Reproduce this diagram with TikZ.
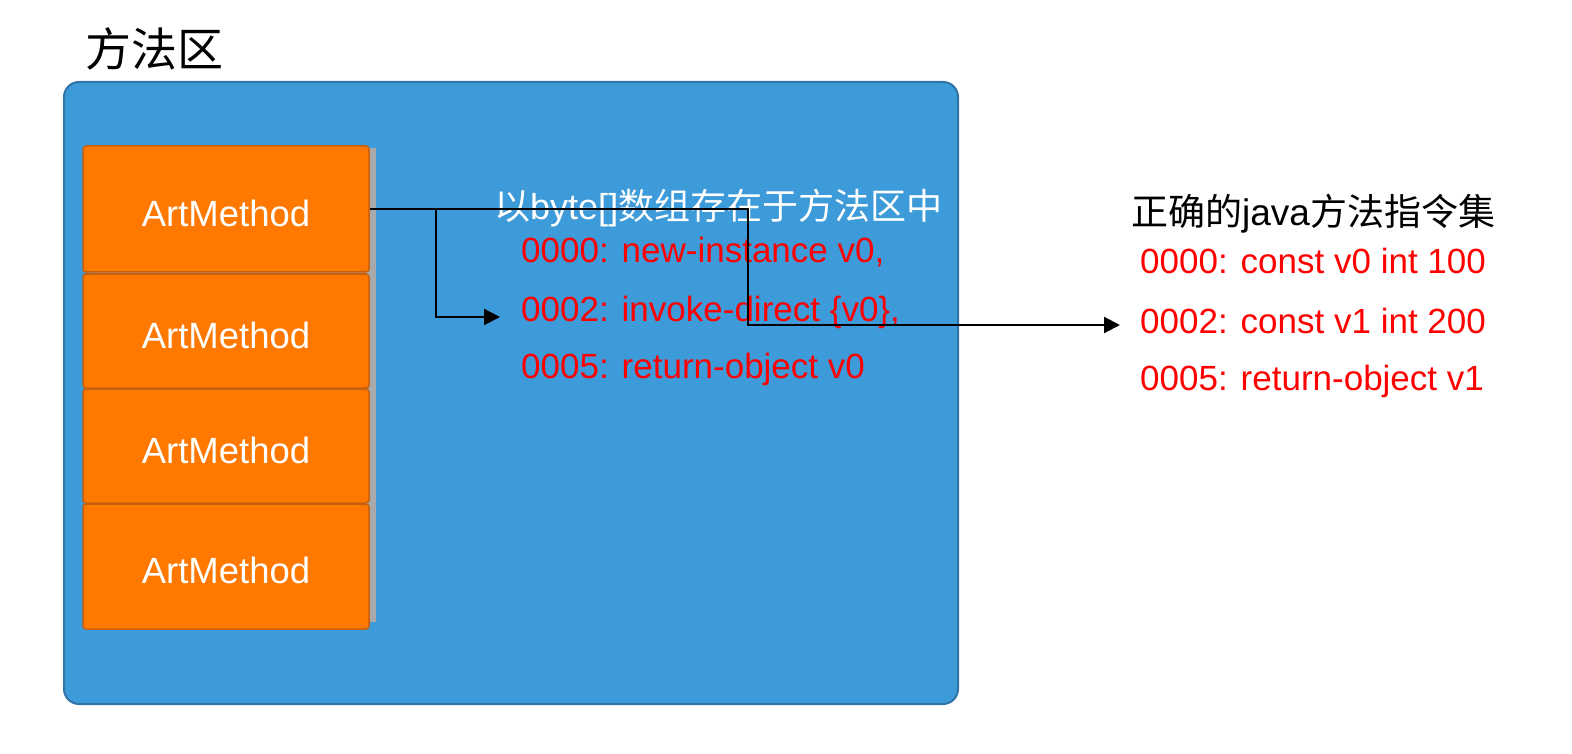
\documentclass[tikz,border=0pt]{standalone}
\usepackage{fontspec}
\setmainfont{Liberation Sans}
\newfontfamily\cjk{Noto Sans CJK SC}
\usetikzlibrary{arrows.meta}
\definecolor{areablue}{HTML}{3E9BD9}
\definecolor{areaedge}{HTML}{2F75A8}
\definecolor{methodfill}{HTML}{FF7800}
\definecolor{methodedge}{HTML}{C4600E}
\definecolor{shadowgray}{HTML}{A9A9A9}
\tikzset{
  area/.style   = { fill=areablue, draw=areaedge, line width=2pt, rounded corners=15pt },
  method/.style = { fill=methodfill, draw=methodedge, line width=1.5pt, rounded corners=3pt,
                    text=white, minimum width=286pt, inner sep=0pt, text height=35pt,
                    font=\fontsize{36.5}{40}\selectfont },
  code/.style   = { text=red, anchor=west, inner sep=0pt, font=\fontsize{35}{40}\selectfont },
  head/.style   = { anchor=west, inner sep=0pt },
  link/.style   = { line width=2.2pt, -{Triangle[length=16pt,width=16pt]} }
}

\begin{document}
\begin{tikzpicture}[x=1pt,y=-1pt]
    \useasboundingbox (0,0) rectangle (1572,754);

    \node[head, font=\fontsize{46}{52}\selectfont\cjk] (title) at (85,49) {方法区};

    \draw[area] (64,82) rectangle (958,704);
    \fill[shadowgray] (90,148) rectangle (376,622);

    \node[method, minimum height=126pt] (am1) at (226,209)   {ArtMethod};
    \node[method, minimum height=114pt] (am2) at (226,331)   {ArtMethod};
    \node[method, minimum height=114pt] (am3) at (226,446)   {ArtMethod};
    \node[method, minimum height=125pt] (am4) at (226,566.5) {ArtMethod};

    \node[head, text=white, font=\fontsize{36}{42}\selectfont] (lhead) at (494,208)
        {{\cjk 以}byte[]{\cjk 数组存在于方法区中}};
    \node[code] (l0) at (521,252) {0000: new-instance v0,};
    \node[code] (l2) at (521,312) {0002: invoke-direct \{v0\},};
    \node[code] (l5) at (521,369) {0005: return-object v0};

    \node[head, font=\fontsize{37}{44}\selectfont] (rhead) at (1131,214)
        {{\cjk 正确的}java{\cjk 方法指令集}};
    \node[code] (r0) at (1140,261) {0000: const v0 int 100};
    \node[code] (r2) at (1140,321) {0002: const v1 int 200};
    \node[code] (r5) at (1140,381) {0005: return-object v1};

    % links
    \draw[link] (am1.east) -- ++(378,0) |- ([xshift=-20pt,yshift=-4pt]r2.west);
    \draw[link] ([xshift=66pt]am1.east) |- ([xshift=-21pt,yshift=-5pt]l2.west);
\end{tikzpicture}
\end{document}
